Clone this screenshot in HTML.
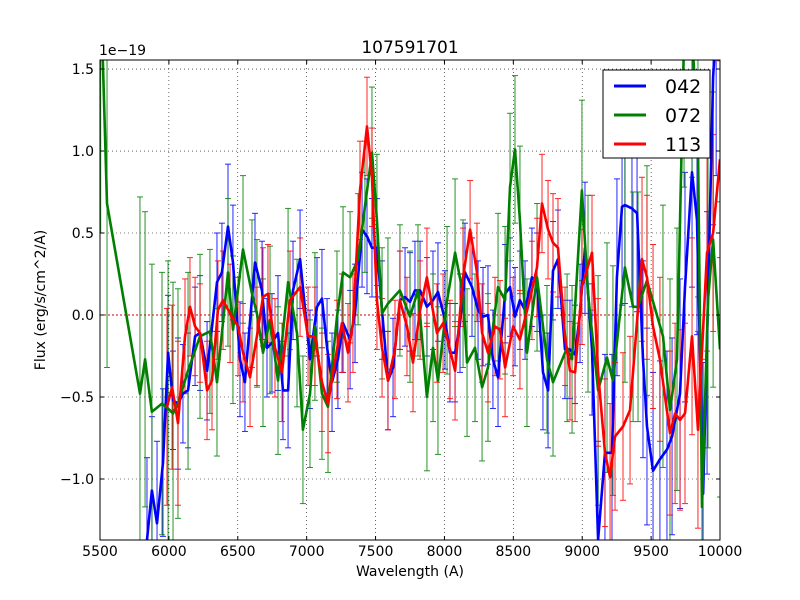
<!DOCTYPE html>
<html><head><meta charset="utf-8"><style>
html,body{margin:0;padding:0;background:#fff;width:800px;height:600px;overflow:hidden;}
svg{display:block;font-family:"DejaVu Sans","Liberation Sans",sans-serif;}
</style></head><body>
<svg id="chart" width="800" height="600" viewBox="0 0 800 600" xmlns="http://www.w3.org/2000/svg">
<rect x="0" y="0" width="800" height="600" fill="#fff"/>
<defs><clipPath id="plotclip"><rect x="100" y="60" width="620" height="480"/></clipPath></defs>
<g id="grid"></g>
<g id="series" clip-path="url(#plotclip)"></g>
<rect x="100" y="60" width="620" height="480" fill="none" stroke="#000" stroke-width="1"/>
<g id="ticks"></g>
<text x="410" y="53" text-anchor="middle" font-size="17">107591701</text>
<text x="99" y="55" font-size="14">1e−19</text>
<text x="410" y="576" text-anchor="middle" font-size="14">Wavelength (A)</text>
<text transform="translate(45,300) rotate(-90)" text-anchor="middle" font-size="14">Flux (erg/s/cm^2/A)</text>
<g id="legend">
<rect x="603" y="70" width="107" height="88" fill="#fff" stroke="#000" stroke-width="1"/>
</g>
</svg>
<script>
const xTicks=[5500,6000,6500,7000,7500,8000,8500,9000,9500,10000];
const yTicks=[-1.0,-0.5,0.0,0.5,1.0,1.5];
const yTickLabels=["−1.0","−0.5","0.0","0.5","1.0","1.5"];
const seriesNames=["042","072","113"];
const seriesColors=["#0000ff","#008000","#ff0000"];
// [wavelength, flux(1e-19), error]
const data042=[[5841,-1.37,0.5],[5877,-1.07,0.45],[5914,-1.27,0.5],[5957,-0.90,0.45],[5994,-0.23,0.35],[6030,-0.52,0.3],[6066,-0.54,0.4],[6102,-0.48,0.3],[6139,-0.46,0.35],[6190,-0.13,0.3],[6226,-0.11,0.35],[6277,-0.34,0.3],[6349,0.20,0.3],[6385,0.26,0.3],[6429,0.54,0.38],[6465,0.32,0.35],[6516,-0.27,0.35],[6552,-0.41,0.3],[6625,0.32,0.3],[6676,0.15,0.3],[6712,-0.20,0.3],[6748,-0.17,0.3],[6792,-0.11,0.35],[6828,-0.46,0.3],[6865,-0.46,0.35],[6901,0.15,0.3],[6952,0.34,0.3],[7024,-0.27,0.3],[7075,0.05,0.3],[7111,0.10,0.3],[7148,-0.20,0.3],[7184,-0.41,0.3],[7227,-0.27,0.3],[7264,-0.05,0.3],[7315,-0.15,0.3],[7351,0.01,0.3],[7402,0.52,0.35],[7438,0.48,0.35],[7474,0.41,0.3],[7510,0.41,0.3],[7547,0.03,0.3],[7590,-0.40,0.3],[7627,-0.32,0.3],[7677,0.09,0.3],[7714,0.11,0.3],[7750,0.08,0.3],[7786,0.15,0.3],[7823,0.15,0.3],[7873,0.05,0.3],[7917,0.09,0.3],[7953,0.14,0.3],[8004,-0.03,0.3],[8040,-0.23,0.3],[8077,-0.23,0.3],[8113,-0.05,0.3],[8149,0.26,0.3],[8200,0.17,0.3],[8244,0.03,0.3],[8280,-0.01,0.3],[8316,0.00,0.3],[8352,-0.27,0.3],[8389,-0.38,0.3],[8440,0.13,0.3],[8476,0.17,0.3],[8512,-0.01,0.3],[8548,0.09,0.3],[8585,0.03,0.3],[8635,0.23,0.3],[8672,0.20,0.3],[8715,-0.35,0.35],[8752,-0.46,0.35],[8788,0.27,0.3],[8824,0.34,0.3],[8875,-0.21,0.3],[8911,-0.21,0.3],[8948,-0.24,0.3],[8984,0.01,0.3],[9020,0.41,0.4],[9071,-0.21,0.4],[9115,-1.37,0.6],[9165,-0.84,0.6],[9216,-0.84,0.6],[9252,0.23,0.6],[9289,0.66,0.6],[9310,0.67,0.6],[9361,0.65,0.6],[9398,0.62,0.6],[9441,-0.27,0.6],[9470,-0.68,0.6],[9514,-0.95,0.6],[9564,-0.88,0.6],[9615,-0.82,0.6],[9652,-0.74,0.6],[9710,-0.48,0.7],[9746,0.17,0.7],[9797,0.87,0.7],[9833,0.58,0.7],[9877,-1.09,0.8],[9906,-0.17,0.8],[9950,1.45,0.9],[9972,1.75,0.9]];
const data072=[[5505,2.0,1.5],[5551,0.68,1.0],[5790,-0.48,1.2],[5827,-0.27,0.9],[5877,-0.59,0.9],[5950,-0.54,0.8],[5994,-0.57,0.9],[6030,-0.60,0.8],[6066,-0.54,0.7],[6139,-0.34,0.6],[6226,-0.13,0.5],[6298,-0.10,0.5],[6349,-0.41,0.45],[6429,0.26,0.45],[6465,-0.09,0.45],[6538,0.40,0.45],[6603,0.13,0.45],[6639,0.01,0.45],[6683,-0.23,0.45],[6734,-0.03,0.45],[6792,-0.40,0.45],[6865,0.20,0.45],[6930,-0.11,0.45],[6973,-0.70,0.45],[7024,-0.48,0.45],[7060,-0.07,0.45],[7111,-0.48,0.4],[7155,-0.56,0.4],[7220,-0.01,0.4],[7264,0.26,0.4],[7315,0.23,0.4],[7373,0.34,0.4],[7423,0.66,0.4],[7474,0.99,0.4],[7510,0.58,0.4],[7547,0.01,0.4],[7590,0.07,0.4],[7677,0.15,0.4],[7750,-0.01,0.4],[7808,0.15,0.4],[7873,-0.50,0.45],[7917,-0.20,0.45],[7953,-0.40,0.45],[8019,0.09,0.45],[8077,0.38,0.45],[8135,0.13,0.45],[8164,-0.29,0.45],[8222,-0.20,0.45],[8273,-0.44,0.45],[8316,-0.32,0.45],[8389,0.17,0.45],[8440,0.09,0.45],[8476,0.78,0.45],[8512,1.01,0.45],[8548,0.58,0.45],[8599,-0.23,0.45],[8672,0.23,0.45],[8744,-0.27,0.45],[8788,-0.41,0.45],[8890,-0.20,0.45],[8926,-0.27,0.45],[8998,0.76,0.55],[9042,0.13,0.6],[9115,-0.46,0.7],[9180,-0.26,0.7],[9223,-0.40,0.7],[9310,0.29,0.7],[9369,0.05,0.7],[9405,0.05,0.7],[9470,0.21,0.7],[9586,-0.13,0.8],[9637,-0.58,0.8],[9688,-0.27,0.8],[9739,1.68,0.9],[9797,1.74,0.9],[9840,1.01,0.9],[9869,-1.17,0.9],[9913,0.09,0.9],[9950,0.46,0.9],[10000,-0.21,0.9]];
const data113=[[5986,-0.56,0.6],[6023,-0.44,0.5],[6066,-0.66,0.5],[6117,-0.13,0.35],[6153,0.05,0.3],[6190,-0.07,0.3],[6226,-0.11,0.3],[6277,-0.46,0.3],[6313,-0.40,0.3],[6356,0.03,0.3],[6393,0.09,0.3],[6444,0.01,0.3],[6502,-0.07,0.3],[6538,-0.23,0.3],[6589,-0.38,0.3],[6639,-0.13,0.3],[6683,0.11,0.3],[6719,0.13,0.3],[6770,-0.20,0.3],[6821,-0.35,0.3],[6879,0.09,0.3],[6952,0.17,0.3],[7010,-0.13,0.3],[7060,-0.13,0.3],[7111,-0.41,0.3],[7155,-0.54,0.3],[7220,-0.21,0.3],[7256,-0.05,0.3],[7300,-0.23,0.3],[7336,-0.05,0.3],[7387,0.76,0.3],[7438,1.15,0.3],[7474,0.84,0.3],[7510,0.09,0.3],[7547,-0.20,0.3],[7590,-0.40,0.3],[7641,-0.21,0.3],[7677,0.09,0.3],[7728,-0.07,0.3],[7772,-0.29,0.3],[7823,0.03,0.3],[7873,0.23,0.3],[7946,-0.11,0.3],[7990,-0.05,0.3],[8040,-0.21,0.3],[8077,-0.34,0.3],[8135,0.23,0.3],[8186,0.52,0.3],[8236,0.26,0.3],[8273,-0.11,0.3],[8316,-0.23,0.3],[8367,-0.07,0.3],[8403,-0.09,0.3],[8440,-0.32,0.3],[8498,-0.07,0.3],[8548,-0.15,0.3],[8635,0.15,0.3],[8672,0.29,0.3],[8708,0.68,0.3],[8752,0.52,0.3],[8788,0.44,0.3],[8824,0.41,0.3],[8875,-0.13,0.3],[8911,-0.34,0.3],[8948,-0.35,0.3],[8998,0.17,0.35],[9071,0.38,0.35],[9115,-0.35,0.45],[9165,-0.84,0.45],[9202,-0.99,0.45],[9238,-0.74,0.45],[9296,-0.68,0.45],[9347,-0.58,0.45],[9434,0.34,0.5],[9470,0.23,0.5],[9514,-0.07,0.5],[9564,-0.27,0.5],[9637,-0.72,0.5],[9674,-0.60,0.55],[9710,-0.64,0.55],[9746,-0.60,0.55],[9797,-0.13,0.6],[9840,-0.70,0.6],[9906,0.38,0.6],[9950,0.50,0.6],[10000,0.95,0.6]];

const NS="http://www.w3.org/2000/svg";
const X0=100,X1=720,Y0=540,Y1=60,XMIN=5500,XMAX=10000,YMIN=-1.372,YMAX=1.555;
function xs(w){return X0+(w-XMIN)/(XMAX-XMIN)*(X1-X0);}
function ys(v){return Y0-(v-YMIN)/(YMAX-YMIN)*(Y0-Y1);}
function clampY(y){return Math.max(Y1,Math.min(Y0,y));}
function mk(tag,attrs,parent){const e=document.createElementNS(NS,tag);for(const k in attrs)e.setAttribute(k,attrs[k]);parent.appendChild(e);return e;}
const grid=document.getElementById('grid'),ticks=document.getElementById('ticks'),series=document.getElementById('series'),legend=document.getElementById('legend');
xTicks.forEach(t=>{const x=xs(t);
 const g=mk('line',{x1:x,x2:x,y1:Y1,y2:Y0,stroke:'#000','stroke-width':0.6,'stroke-dasharray':'1,3'},grid);
 
 
 mk('line',{x1:x,x2:x,y1:Y0,y2:Y0-4,stroke:'#000'},ticks);
 mk('line',{x1:x,x2:x,y1:Y1,y2:Y1+4,stroke:'#000'},ticks);
 const l=mk('text',{x:x,y:556,'text-anchor':'middle','font-size':14},ticks);l.textContent=t;
 
 
});
yTicks.forEach((t,i)=>{const y=ys(t);
 const g=mk('line',{x1:X0,x2:X1,y1:y,y2:y,stroke:'#000','stroke-width':0.6,'stroke-dasharray':'1,3'},grid);
 
 
 mk('line',{x1:X0,x2:X0+4,y1:y,y2:y,stroke:'#000'},ticks);
 mk('line',{x1:X1,x2:X1-4,y1:y,y2:y,stroke:'#000'},ticks);
 const l=mk('text',{x:94,y:y+5,'text-anchor':'end','font-size':14},ticks);l.textContent=yTickLabels[i];
 
 
});
const zl=mk('line',{x1:X0,x2:X1,y1:ys(0),y2:ys(0),stroke:'#cc0000','stroke-width':1,'stroke-dasharray':'2,2'},series);


[data042,data072,data113].forEach((d,si)=>{
 const c=seriesColors[si];
 const eg=mk('g',{stroke:c,'stroke-width':1,opacity:0.85},series);
 
 
 d.forEach(p=>{const x=xs(p[0]),ra=ys(p[1]+p[2]),rb=ys(p[1]-p[2]);
  const a=clampY(ra),b=clampY(rb);
  if(a>=b) return;
  mk('line',{x1:x,x2:x,y1:a,y2:b},eg);
  if(ra>=Y1) mk('line',{x1:x-3,x2:x+3,y1:a,y2:a},eg);
  if(rb<=Y0) mk('line',{x1:x-3,x2:x+3,y1:b,y2:b},eg);
 });
});
[data042,data072,data113].forEach((d,si)=>{
 const pl=mk('polyline',{points:d.map(p=>xs(p[0]).toFixed(1)+','+ys(p[1]).toFixed(1)).join(' '),fill:'none',stroke:seriesColors[si],'stroke-width':2.6,'stroke-linejoin':'round'},series);
 
 
});
seriesNames.forEach((n,i)=>{const y=86+i*29;
 const ln=mk('line',{x1:614,x2:646,y1:y,y2:y,stroke:seriesColors[i],'stroke-width':3},legend);
 
 
 const t=mk('text',{x:665,y:y+7,'font-size':19},legend);t.textContent=n;
 
 
});
</script>
</body></html>
